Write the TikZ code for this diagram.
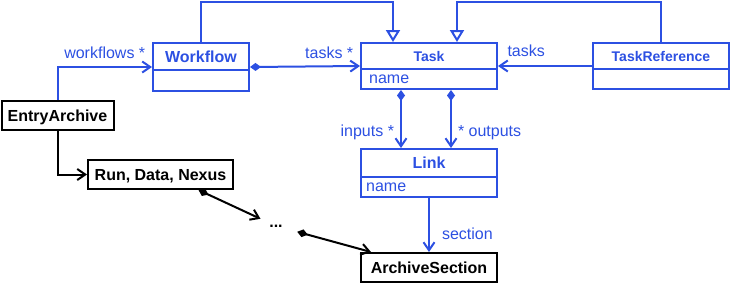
\documentclass[tikz,border=0pt]{standalone}
\usepackage{fontspec}
\setmainfont{Liberation Sans}
\usetikzlibrary{arrows.meta}
\definecolor{umlblue}{RGB}{44,80,226}
\newcommand{\umlfont}{\fontsize{16}{19}\selectfont}
\newcommand{\umlsmallfont}{\fontsize{14}{17}\selectfont}
\tikzset{
classbox/.style={draw=umlblue, line width=2pt, inner sep=0pt, minimum width=136pt, minimum height=46pt},
classtitle/.style={text=umlblue, font=\umlfont\bfseries, inner sep=0pt, anchor=base},
classattr/.style={text=umlblue, font=\umlfont, inner sep=0pt, anchor=base west},
divider/.style={umlblue, line width=2pt},
archbox/.style={draw, line width=2pt, font=\umlfont\bfseries,
  minimum height=29pt, inner sep=0pt, text height=11.5pt, text depth=0pt},
assoc/.style={umlblue, line width=2pt, -{Straight Barb[length=8pt,width=11pt]}},
compose/.style={assoc, {Diamond[length=11pt,width=8pt]}-{Straight Barb[length=8pt,width=11pt]}},
inherit/.style={umlblue, line width=2pt, -{Triangle[open,length=12pt,width=14pt]}},
plainarrow/.style={line width=2pt, -{Straight Barb[length=8pt,width=11pt]}},
plaincompose/.style={plainarrow, {Diamond[length=11pt,width=8pt]}-{Straight Barb[length=8pt,width=11pt]}},
edgelabel/.style={text=umlblue, font=\umlfont, inner sep=2pt},
}
\begin{document}
\begin{tikzpicture}[x=1pt, y=-1pt]
\useasboundingbox (0,0) rectangle (730,290);

\node[classbox, minimum width=96pt, minimum height=48pt] (workflow) at (201,67) {};
\node[classtitle] (workflow-title) at ([yshift=-20.3pt]workflow.north) {Workflow};
\draw[divider] ([yshift=-28pt]workflow.north west) -- ([yshift=-28pt]workflow.north east);

\node[classbox] (task) at (429,66) {};
\node[classtitle, font=\umlsmallfont\bfseries] (task-title) at ([yshift=-19pt]task.north) {Task};
\draw[divider] ([yshift=-27pt]task.north west) -- ([yshift=-27pt]task.north east);
\node[classattr] (task-attr) at ([xshift=9pt, yshift=-41.3pt]task.north west) {name};

\node[classbox] (taskref) at (661,66) {};
\node[classtitle, font=\umlsmallfont\bfseries] (taskref-title) at ([yshift=-19.3pt]taskref.north) {TaskReference};
\draw[divider] ([yshift=-27pt]taskref.north west) -- ([yshift=-27pt]taskref.north east);

\node[classbox, minimum height=48pt] (link) at (429,173) {};
\node[classtitle] (link-title) at ([yshift=-20pt]link.north) {Link};
\draw[divider] ([yshift=-29pt]link.north west) -- ([yshift=-29pt]link.north east);
\node[classattr] (link-attr) at ([xshift=6pt, yshift=-43pt]link.north west) {name};

\node[archbox, minimum width=112pt] (entry) at (57.5,115.5) {EntryArchive};
\node[archbox, minimum width=145pt] (run) at (160.5,174.5) {Run, Data, Nexus};
\node[archbox, minimum width=136pt] (archsec) at (429,267.5) {ArchiveSection};
\node[font=\umlfont\bfseries, minimum width=42pt, minimum height=14pt, inner sep=0pt] (dots) at (276,226) {...};

\draw[inherit] (workflow.north) -- ++(0,-40) -| ([xshift=-36pt]task.north);
\draw[inherit] (taskref.north) -- ++(0,-40) -| ([xshift=28pt]task.north);

\draw[assoc] (entry.north) |- node[edgelabel, pos=0.75, above=5pt] {workflows *} (workflow.west);
\draw[compose] (workflow.east) -- node[edgelabel, pos=0.72, above=5pt] {tasks *} (task.west);
\draw[assoc] (taskref.west) -- node[edgelabel, pos=0.7, above=6pt] {tasks} (task.east);
\draw[compose] ([xshift=-28pt]task.south) -- node[edgelabel, pos=0.73, left=4pt] {inputs *} ([xshift=-28pt]link.north);
\draw[compose] ([xshift=22pt]task.south) -- node[edgelabel, pos=0.73, right=4pt] {* outputs} ([xshift=22pt]link.north);
\draw[assoc] (link.south) -- node[edgelabel, pos=0.66, right=10pt] {section} (archsec.north);

\draw[plainarrow] (entry.south) |- (run.west);
\draw[plaincompose] ([xshift=38pt]run.south) -- (dots);
\draw[plaincompose] (dots) -- ([xshift=11pt]archsec.north west);
\end{tikzpicture}
\end{document}
